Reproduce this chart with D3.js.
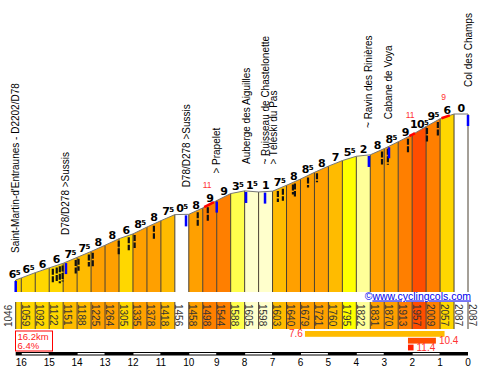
<!DOCTYPE html>
<html>
<head>
<meta charset="utf-8">
<script src="https://cdn.jsdelivr.net/npm/d3@7"></script>
<style>
html, body { margin: 0; padding: 0; background: #fff; }
svg { display: block; font-family: "Liberation Sans", Arial, sans-serif; }
</style>
</head>
<body>
<div id="chart"></div>
<script>
// Profile: distance to the top (km) and altitude (m) at each point
const kmMarks = [16.2, 16, 15.5, 15, 14.5, 14, 13.5, 13, 12.5, 12, 11.5, 11, 10.5, 10, 9.5, 9,
    8.5, 8, 7.5, 7, 6.5, 6, 5.5, 5, 4.5, 4, 3.5, 3, 2.5, 2, 1.5, 1, 0.5, 0];
const elevations = [1046, 1059, 1092, 1122, 1151, 1188, 1225, 1264, 1305, 1335, 1378, 1418, 1456, 1458,
    1498, 1544, 1588, 1605, 1598, 1603, 1640, 1679, 1721, 1760, 1795, 1822, 1831, 1870, 1913, 1957,
    2009, 2057, 2087, 2087];
// gradient shown above each section (%)
const grades = [6.5, 6.5, 6, 6, 7.5, 7.5, 8, 8, 6, 8.5, 8, 7.5, 0.5, 8, 9, 9, 3.5, 1.5, 1, 7.5,
    8, 8.5, 8, 7, 5.5, 2, 8, 8.5, 9, 10.5, 9.5, 6, 0];

// points of interest
const poiKm = [16.2, 14.4, 10.1, 9.0, 7.95, 7.27, 3.55, 2.83, 0];
const poiNames = [
    ["Saint-Martin-d'Entraunes - D2202/D78"],
    ["D78/D278 >Sussis"],
    ["D78/D278 >Sussis"],
    ["> Prapelet"],
    ["Auberge des Aiguilles"],
    ["~ Ruisseau de Chastelonette", "> Téléski du Pas"],
    ["~ Ravin des Rinières"],
    ["Cabane de Voya"],
    ["Col des Champs"]
];

// hairpins
const bendKm = [14.87, 14.73, 14.62, 14.52, 14.05, 13.95, 13.58, 13.44, 12.51, 12.15, 11.94, 11.25,
    9.68, 9.32, 6.81, 6.63, 6.27, 6.2, 5.73, 5.41, 3.08, 2.87, 2.15, 1.47, 1.08];
const bendLen = [15, 15, 17, 16, 14, 12, 12, 14, 15, 13, 13, 13, 15, 15, 11, 12, 10, 13, 10, 9,
    13, 16, 14, 15, 15];

// steepest 200 m stretches
const steepFrom = [9.45, 2.1, 0.95];
const steepTo = [9.1, 1.9, 0.65];
const steepLabel = ["11", "11", "9"];

// steepest 5 km / 1 km / 200 m
const maxGrade = [7.6, 10.4, 11.4];
const maxStartKm = [5.84, 2.15, 2.15];
const maxLength = [5, 1, 0.2];

const kmTicks = d3.range(0, 17);

const width = 484, height = 369;
const base = 292;

const x = d3.scaleLinear().domain([16.2, 0]).range([15.7, 468]);
const y = d3.scaleLinear().domain([1046, 2087]).range([280, 114]);
const elevAt = d3.scaleLinear().domain(kmMarks).range(elevations);
const color = d3.scaleThreshold()
    .domain([1, 2, 3, 5, 6, 7, 8, 9, 10, 11])
    .range(["#ffffff", "#ffffcc", "#ffff99", "#ffff4d", "#ffff00", "#ffd700", "#ffbb00",
        "#ffa000", "#ff7f00", "#ff4d00", "#ff2000"]);

const segs = grades.map((g, i) => ({
    k0: kmMarks[i], k1: kmMarks[i + 1], e0: elevations[i], e1: elevations[i + 1], g: g
}));

const svg = d3.select("#chart").append("svg")
    .attr("width", width)
    .attr("height", height);

// coloured sections
svg.append("g").selectAll("path")
    .data(segs)
    .enter().append("path")
    .attr("d", d => `M${x(d.k0)},${base}L${x(d.k0)},${y(d.e0)}L${x(d.k1)},${y(d.e1)}L${x(d.k1)},${base}Z`)
    .attr("fill", d => color(d.g));

svg.append("g").selectAll("line")
    .data(kmMarks)
    .enter().append("line")
    .attr("x1", d => x(d)).attr("x2", d => x(d))
    .attr("y1", (d, i) => y(elevations[i])).attr("y2", base)
    .attr("stroke", "#4a4030")
    .attr("stroke-width", 1);

svg.append("path")
    .datum(kmMarks)
    .attr("d", d3.line().x(d => x(d)).y((d, i) => y(elevations[i])))
    .attr("fill", "none")
    .attr("stroke", "#777")
    .attr("stroke-width", 1);

// hairpins
svg.append("g").selectAll("line")
    .data(bendKm)
    .enter().append("line")
    .attr("x1", d => x(d)).attr("x2", d => x(d))
    .attr("y1", d => y(elevAt(d)) + 2)
    .attr("y2", (d, i) => y(elevAt(d)) + 2 + bendLen[i])
    .attr("stroke", "#111")
    .attr("stroke-width", 2.2)
    .attr("stroke-dasharray", "6,1.5");

// steepest stretches
steepFrom.forEach((a, i) => {
    const b = steepTo[i];
    const pts = [a].concat(kmMarks.filter(k => k < a && k > b), [b]);
    svg.append("path")
        .attr("d", d3.line().x(k => x(k)).y(k => y(elevAt(k)))(pts))
        .attr("fill", "none")
        .attr("stroke", "#ff0000")
        .attr("stroke-width", 2.5);
    const mid = (a + b) / 2;
    svg.append("text")
        .attr("x", x(mid) - 2)
        .attr("y", y(elevAt(mid)) - 17)
        .attr("text-anchor", "middle")
        .attr("font-size", 8.5)
        .attr("fill", "#ff3333")
        .text(steepLabel[i]);
});

// points of interest
poiKm.forEach((k, i) => {
    svg.append("rect")
        .attr("x", x(k) - 1.25)
        .attr("y", y(elevAt(k)) + 1)
        .attr("width", 2.5)
        .attr("height", 11)
        .attr("fill", "#0000ff");
    poiNames[i].forEach((name, j) => {
        const px = x(k) + j * 8.5, py = y(elevAt(k)) - 27;
        svg.append("text")
            .attr("transform", `translate(${px},${py}) rotate(-90)`)
            .attr("dy", "0.35em")
            .attr("font-size", 10)
            .attr("fill", "#000")
            .text(name);
    });
});

// gradient labels
const gl = svg.append("g").selectAll("text")
    .data(segs)
    .enter().append("text")
    .attr("x", d => x(d.k1 + 0.25))
    .attr("y", d => y(elevAt(d.k1 + 0.25)) - 2.5)
    .attr("text-anchor", "middle")
    .attr("font-family", "'DejaVu Sans', Verdana, sans-serif")
    .attr("font-size", 11)
    .attr("font-weight", "bold")
    .attr("letter-spacing", -0.6)
    .attr("fill", "#000");
gl.append("tspan").text(d => Math.floor(d.g));
gl.filter(d => d.g % 1 !== 0).append("tspan")
    .attr("font-size", 7)
    .attr("dy", -3)
    .text("5");

// watermark
const wm = svg.append("text")
    .attr("x", 471)
    .attr("y", 299.5)
    .attr("text-anchor", "end")
    .attr("font-size", 10.5)
    .attr("fill", "#0000ee");
wm.append("tspan").text("©");
wm.append("tspan").style("text-decoration", "underline").text("www.cyclingcols.com");

// altitude band
const bandTop = 302, bandBottom = 329;
svg.append("g").selectAll("rect")
    .data(segs)
    .enter().append("rect")
    .attr("x", d => x(d.k0))
    .attr("y", bandTop)
    .attr("width", d => x(d.k1) - x(d.k0))
    .attr("height", bandBottom - bandTop)
    .attr("fill", d => color(d.g));
svg.append("g").selectAll("line")
    .data(kmMarks)
    .enter().append("line")
    .attr("x1", d => x(d)).attr("x2", d => x(d))
    .attr("y1", bandTop).attr("y2", bandBottom)
    .attr("stroke", "#4a4030");
svg.append("g").selectAll("text")
    .data(elevations)
    .enter().append("text")
    .attr("transform", (d, i) => i === 0
        ? `translate(${x(kmMarks[0]) - 7},${bandBottom - 2}) rotate(-90)`
        : `translate(${x(kmMarks[i]) + 4},${bandTop + 2}) rotate(90)`)
    .attr("dy", "0.35em")
    .attr("font-size", 10)
    .attr("fill", "#333")
    .text(d => d);

// totals box
const totalKm = kmMarks[0] - kmMarks[kmMarks.length - 1];
const avg = (elevations[elevations.length - 1] - elevations[0]) / (totalKm * 10);
svg.append("rect")
    .attr("x", 15.5).attr("y", 331)
    .attr("width", 37).attr("height", 20)
    .attr("fill", "#fff")
    .attr("stroke", "#ff0000");
svg.append("text").attr("x", 17.5).attr("y", 339.5)
    .attr("font-size", 9.5).attr("fill", "#ff2222")
    .text(totalKm.toFixed(1) + "km");
svg.append("text").attr("x", 17.5).attr("y", 349)
    .attr("font-size", 9.5).attr("fill", "#ff2222")
    .text(avg.toFixed(1) + "%");

// steepest bars
maxGrade.forEach((g, i) => {
    const x0 = x(maxStartKm[i]), x1 = x(maxStartKm[i] - maxLength[i]);
    const ry = 331 + i * 6.8;
    svg.append("rect")
        .attr("x", x0).attr("y", ry)
        .attr("width", x1 - x0).attr("height", 5.8)
        .attr("fill", color(g));
    svg.append("text")
        .attr("x", i === 0 ? x0 - 2 : x1 + 3)
        .attr("y", ry + 6.3)
        .attr("text-anchor", i === 0 ? "end" : "start")
        .attr("font-size", 10)
        .attr("fill", "#ff3333")
        .text(g.toFixed(1));
});

// km scale
svg.append("rect")
    .attr("x", x(16.2)).attr("y", 352)
    .attr("width", x(0) - x(16.2)).attr("height", 3.5)
    .attr("fill", "#000");
svg.append("g").selectAll("rect")
    .data(kmTicks.filter(k => k > 0 && k % 2 === 0))
    .enter().append("rect")
    .attr("x", d => x(d) + 0.5)
    .attr("y", 353)
    .attr("width", d => x(d - 1) - x(d) - 1)
    .attr("height", 1.5)
    .attr("fill", "#fff");
svg.append("g").selectAll("text")
    .data(kmTicks)
    .enter().append("text")
    .attr("x", d => x(d))
    .attr("y", 366)
    .attr("text-anchor", "middle")
    .attr("font-size", 10)
    .attr("fill", "#000")
    .text(d => d);
</script>
</body>
</html>
